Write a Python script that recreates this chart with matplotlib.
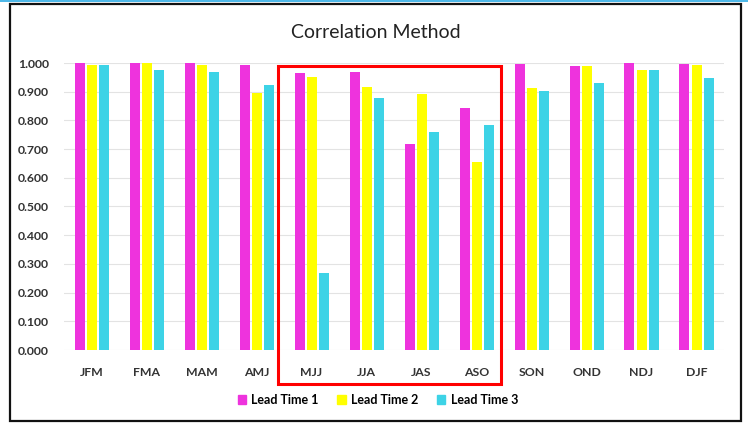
import numpy as np
import matplotlib.pyplot as plt
from matplotlib.patches import Rectangle

# 数据
seasons = ["JFM", "FMA", "MAM", "AMJ", "MJJ", "JJA", "JAS", "ASO", "SON", "OND", "NDJ", "DJF"]
lead1 = [1.000, 1.000, 0.999, 0.993, 0.964, 0.969, 0.718, 0.842, 0.997, 0.988, 1.000, 0.995]
lead2 = [0.992, 1.000, 0.993, 0.897, 0.952, 0.918, 0.891, 0.654, 0.914, 0.988, 0.975, 0.992]
lead3 = [0.993, 0.976, 0.969, 0.925, 0.268, 0.877, 0.760, 0.784, 0.904, 0.931, 0.975, 0.947]
series_names = ["Lead Time 1", "Lead Time 2", "Lead Time 3"]
colors = ["#ee33dd", "#ffff00", "#3dd3e6"]

plt.rcParams['font.family'] = ['Lato', 'DejaVu Sans']

W, H = 748, 423
fig = plt.figure(figsize=(W / 100, H / 100), dpi=100)

# 绘图区
ax = fig.add_axes([64 / W, 1 - 350 / H, 660 / W, 287 / H])
x = np.arange(len(seasons))
off = 12 / 55
bw = 10 / 55
for i, (vals, name) in enumerate(zip([lead1, lead2, lead3], series_names)):
    ax.bar(x + (i - 1) * off, vals, width=bw, color=colors[i], label=name, clip_on=False, zorder=3)

ax.set_xlim(-0.5, len(seasons) - 0.5)
ax.set_ylim(0, 1.0)
ax.set_yticks(np.arange(0, 1.01, 0.1))
ax.set_yticklabels([f"{v:.3f}" for v in np.arange(0, 1.01, 0.1)], fontsize=8.8, fontweight='bold', color='#333333')
ax.set_xticks(x)
ax.set_xticklabels(seasons, fontsize=8.8, fontweight='bold', color='#333333')
ax.tick_params(axis='y', length=0, pad=11)
ax.tick_params(axis='x', length=0, pad=12)
ax.grid(axis='y', color='#e3e3e3', linewidth=0.8, zorder=0)
for s in ax.spines.values():
    s.set_visible(False)
ax.set_facecolor('none')

fig.text(376 / W, 1 - 32 / H, "Correlation Method", fontsize=14, ha='center', va='center', color='#222222')

# 图例
handles = [Rectangle((0, 0), 1, 1, color=c) for c in colors]
fig.legend(handles, series_names, loc='center', bbox_to_anchor=(378 / W, 1 - 400 / H), ncol=3,
           frameon=False, handlelength=0.65, handleheight=0.65, handletextpad=0.45,
           columnspacing=1.5, prop={'weight': 'bold', 'size': 9})

# 红框
fig.patches.append(Rectangle((278 / W, 1 - 384 / H), 223 / W, 318 / H, transform=fig.transFigure,
                             fill=False, edgecolor='#ff0000', linewidth=2.2, zorder=10))
# 外框
fig.patches.append(Rectangle((10 / W, 1 - 421 / H), 731 / W, 416.5 / H, transform=fig.transFigure,
                             fill=False, edgecolor='#111111', linewidth=1.6, zorder=10))
fig.patches.append(Rectangle((0, 1 - 2.5 / H), 1, 2.5 / H, transform=fig.transFigure,
                             color='#4fb8e8', linewidth=0, zorder=10))

fig.savefig("out.png", dpi=100)
